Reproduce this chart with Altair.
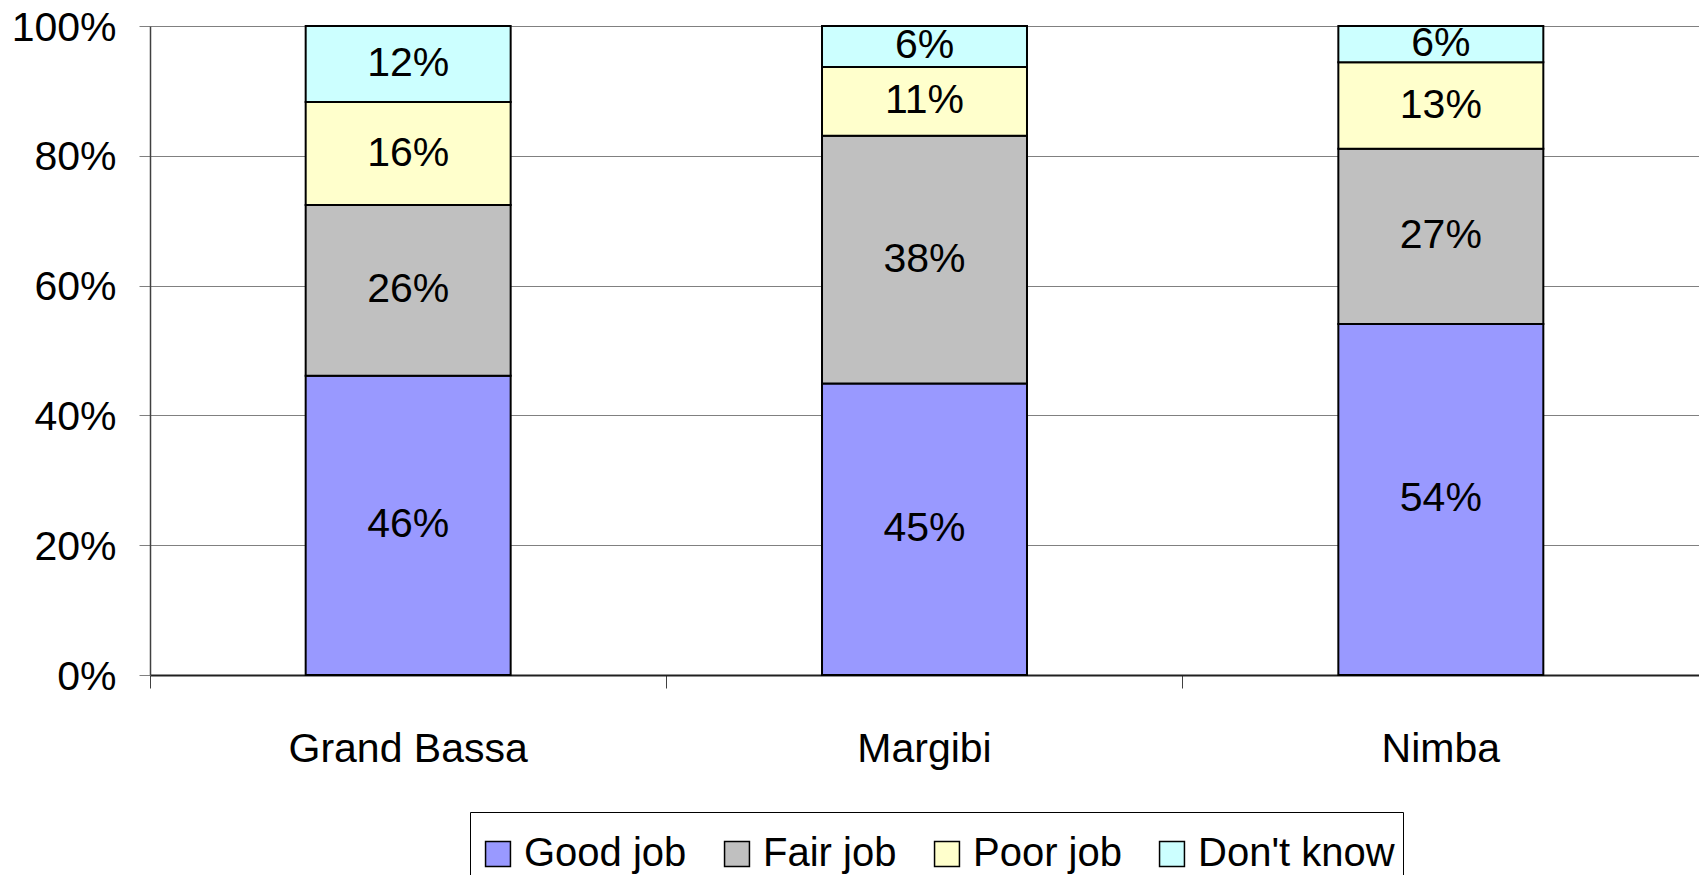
import altair as alt
import pandas as pd

regions = ["Grand Bassa", "Margibi", "Nimba"]
responses = ["Good job", "Fair job", "Poor job", "Don't know"]
good_job = [0.461, 0.449, 0.541]
fair_job = [0.263, 0.382, 0.270]
poor_job = [0.159, 0.106, 0.133]
dont_know = [0.117, 0.063, 0.056]
colors = ["#9999FF", "#C0C0C0", "#FFFFCC", "#CCFFFF"]
y_ticks = [0, 0.2, 0.4, 0.6, 0.8, 1.0]

series = [good_job, fair_job, poor_job, dont_know]
rows = []
for i, region in enumerate(regions):
    for j, resp in enumerate(responses):
        rows.append({"region": region, "response": resp, "order": j, "value": series[j][i]})
df = pd.DataFrame(rows)

FONT = "Liberation Sans"

base = alt.Chart(df).transform_stack(
    stack="value",
    as_=["y0", "y1"],
    groupby=["region"],
    sort=[alt.SortField("order", order="ascending")],
).transform_calculate(ymid="(datum.y0 + datum.y1) / 2")

x_enc = alt.X(
    "region:N",
    sort=regions,
    scale=alt.Scale(paddingInner=0, paddingOuter=0),
    axis=alt.Axis(
        title=None, labelAngle=0, bandPosition=0, tickSize=13, tickColor="#404040",
        domainColor="#202020", domainWidth=2, labelFontSize=41, labelFont=FONT,
        labelColor="black", labelBaseline="alphabetic", labelPadding=73, grid=False,
        labelLimit=0,
    ),
)

bars = base.mark_bar(width=alt.RelativeBandSize(0.397), stroke="black", strokeWidth=2).encode(
    x=x_enc,
    y=alt.Y(
        "y0:Q",
        scale=alt.Scale(domain=[0, 1], nice=False),
        axis=alt.Axis(
            title=None, values=y_ticks, format=".0%", grid=True, gridColor="#808080",
            gridWidth=1, tickSize=11, tickColor="#808080", domainColor="#404040",
            domainWidth=1.5, labelFontSize=41, labelFont=FONT, labelColor="black",
            labelPadding=23, labelOffset=2, labelLimit=0,
        ),
    ),
    y2="y1:Q",
    color=alt.Color(
        "response:N",
        scale=alt.Scale(domain=responses, range=colors),
        legend=alt.Legend(
            title=" ", titleFontSize=1, titlePadding=13,
            orient="none", legendX=320, legendY=786, direction="horizontal",
            columns=4, symbolType="square", symbolSize=620, symbolStrokeColor="black",
            symbolStrokeWidth=1.5, symbolOpacity=1, labelFontSize=40, labelFont=FONT,
            labelColor="black", labelOffset=6, columnPadding=30, padding=8,
            strokeColor="black", fillColor="white", labelLimit=0,
        ),
    ),
)

text = base.mark_text(fontSize=41, font=FONT, color="black", baseline="middle").encode(
    x=alt.X("region:N", sort=regions),
    y=alt.Y("ymid:Q"),
    text=alt.Text("value:Q", format=".0%"),
)

chart = alt.layer(bars, text).properties(
    width=1549,
    height=649,
    autosize=alt.AutoSizeParams(type="none"),
    padding={"left": 142, "top": 18, "right": 0, "bottom": 200},
    background="white",
).configure_view(strokeWidth=0)

chart.save("out.html", embed_options={"renderer": "svg", "actions": False})
